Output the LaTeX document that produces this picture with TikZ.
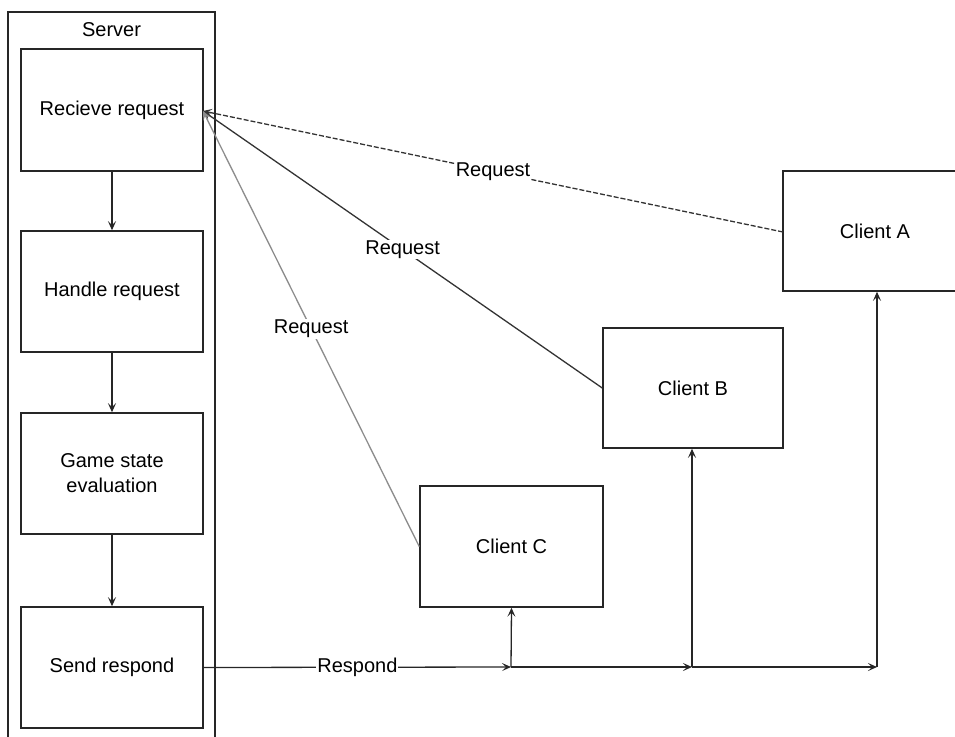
\documentclass[tikz,border=0pt]{standalone}
\usepackage{fontspec}
\setmainfont{Liberation Sans}
\usetikzlibrary{arrows.meta}
\begin{document}
\begin{tikzpicture}[x=1pt,y=-1pt,
  font=\fontsize{20}{25}\selectfont,
  box/.style={draw=black!85, line width=1.5pt, align=center, inner sep=0pt},
  arr/.style={draw=black!85, line width=1.3pt, -{Stealth[length=9pt,width=8pt,inset=4pt]}},
  lbl/.style={fill=white, inner sep=1pt, midway}]
\useasboundingbox (0,0) rectangle (955,736);
% server container
\draw[black!85, line width=1.5pt] (8,760) -- (8,12) -- (215,12) -- (215,760);
\node (server) at (111.5,30) {Server};
% server steps
\node[box, minimum width=182, minimum height=122] (recv) at (112,110) {Recieve request};
\node[box, minimum width=182, minimum height=121] (handle) at (112,291.5) {Handle request};
\node[box, minimum width=182, minimum height=121] (game) at (112,473.5) {Game state\\evaluation};
\node[box, minimum width=182, minimum height=121] (send) at (112,667.5) {Send respond};
% clients
\node[box, minimum width=200, minimum height=120] (A) at (883,231) {};
\node at (875,231) {Client A};
\node[box, minimum width=180, minimum height=120] (B) at (693,388) {Client B};
\node[box, minimum width=183, minimum height=121] (C) at (511.5,546.5) {Client C};
% flow
\draw[arr] (recv) -- (handle);
\draw[arr] (handle) -- (game);
\draw[arr] (game) -- (send);
% requests
\coordinate (rin) at (203,111);
\draw[arr, dash pattern=on 5pt off 2pt, draw=black!80] (783,232) -- node[lbl]{Request} (rin);
\draw[arr, draw=black!80] (B.west) -- node[lbl]{Request} (rin);
\draw[arr, draw=black!45] (C.west) -- node[lbl]{Request} (rin);
% respond
\coordinate (j1) at (511,667);
\coordinate (j2) at (692,667);
\coordinate (j3) at (877,667);
\draw[arr] (send.east) -- node[lbl]{Respond} (j1);
\draw[arr] (j1) -- (j2);
\draw[arr] (j2) -- (j3);
\draw[arr] (j1) -- (C.south);
\draw[arr] (j2) -- (B.south -| j2);
\draw[arr] (j3) -- (A.south -| j3);
\end{tikzpicture}
\end{document}
